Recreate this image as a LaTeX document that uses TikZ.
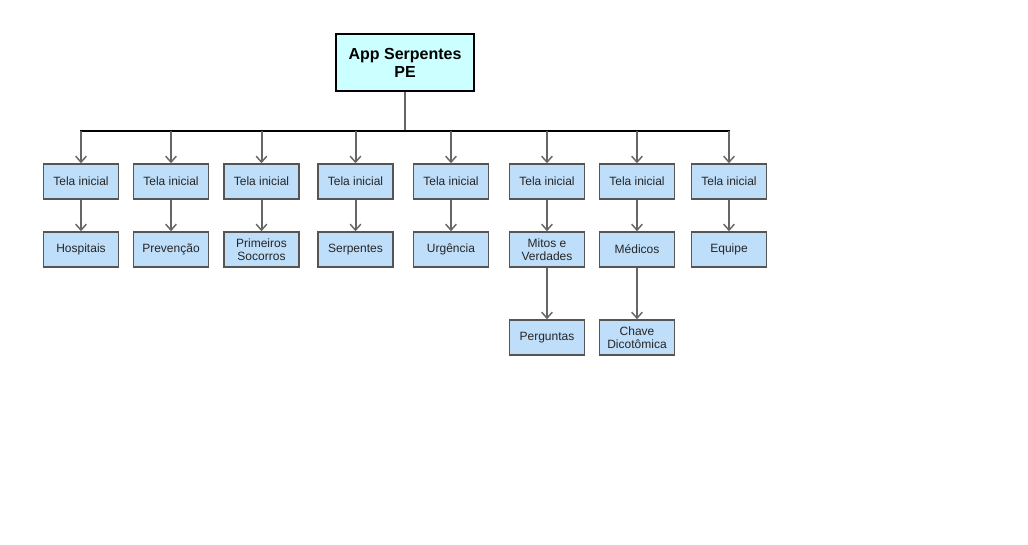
\documentclass[tikz,border=0pt]{standalone}
\usepackage{fontspec}
\setmainfont{Liberation Sans}
\usetikzlibrary{arrows.meta}
\definecolor{boxfill}{RGB}{190,222,250}
\definecolor{boxline}{RGB}{85,85,85}
\definecolor{rootfill}{RGB}{204,255,255}
\definecolor{edge}{RGB}{102,102,102}
\begin{document}
\begin{tikzpicture}[x=0.75pt,y=-0.75pt,
  leaf/.style={draw=boxline,line width=1.1pt,fill=boxfill,minimum width=56.25pt,minimum height=26.25pt,inner sep=1pt,align=center,font=\fontsize{9}{10}\selectfont,text=black!85},
  rootbox/.style={draw=black,line width=1.3pt,fill=rootfill,minimum width=103.5pt,minimum height=42.75pt,align=center,font=\bfseries\fontsize{12}{13.5}\selectfont},
  conn/.style={draw=edge,line width=1.5pt,-{Straight Barb[length=4.5pt,width=8pt,line width=1.1pt]}},
  bus/.style={draw=black,line width=1.5pt}]
\useasboundingbox (0,0) rectangle (1028,545);
\node[rootbox] (root) at (405,62.5) {App Serpentes\\PE};
\coordinate (bl) at (80,131);
\coordinate (br) at (730,131);
\coordinate (bm) at (405,131);
\draw[draw=edge,line width=1.5pt] (root.south) -- (bm);
\draw[bus] (bl) -- (br);
\foreach \i/\x/\t in {1/81/Hospitais,2/171/Prevenção,3/261.5/{Primeiros\\Socorros},4/355.5/Serpentes,5/451/Urgência,6/547/{Mitos e\\Verdades},7/637/Médicos,8/729/Equipe}{
  \node[leaf] (t\i) at (\x,181.5) {Tela inicial};
  \node[leaf] (s\i) at (\x,249.5) {\t};
  \coordinate (b\i) at (\x,131);
  \draw[conn] (b\i) -- (t\i.north);
  \draw[conn] (t\i) -- (s\i);
}
\node[leaf] (p6) at (547,337.5) {Perguntas};
\node[leaf] (p7) at (637,337.5) {Chave\\Dicotômica};
\draw[conn] (s6) -- (p6);
\draw[conn] (s7) -- (p7);
\end{tikzpicture}
\end{document}
